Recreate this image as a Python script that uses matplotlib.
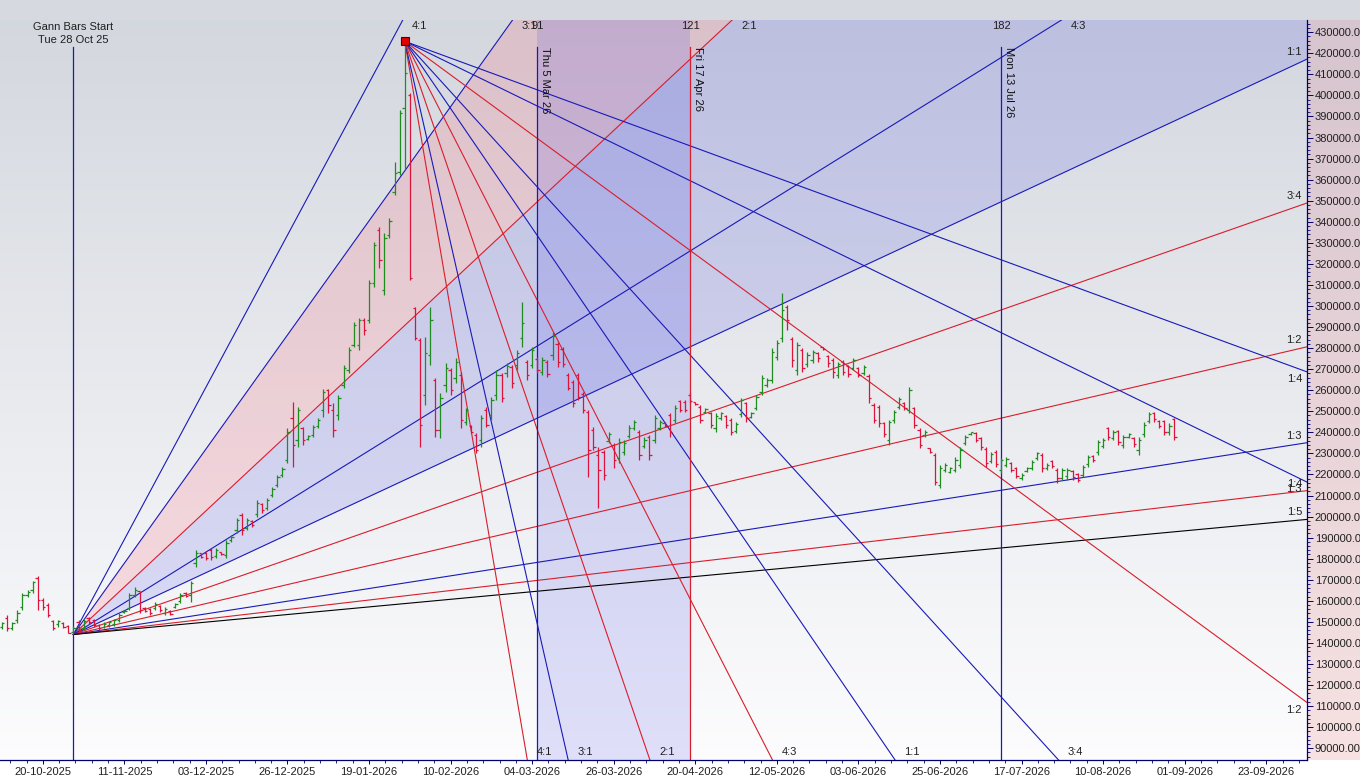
import numpy as np
import matplotlib
matplotlib.use("Agg")
import matplotlib.pyplot as plt
from matplotlib.patches import Rectangle
from matplotlib.ticker import FixedLocator, MultipleLocator, FuncFormatter

plt.rcParams["font.family"] = ["Liberation Sans", "DejaVu Sans"]

# daily OHLC in thousands, one bar per trading day, first bar is index -14
FIRST_BAR = -14
OPENS = [
    147.6, 151.9, 147.1, 150.9, 157.1, 162.8, 165.2, 170.9, 160.4, 158.0,
    150.4, 149.0, 149.5, 148.1, 145.2, 150.0, 147.1, 151.9, 150.9, 148.5,
    147.6, 148.5, 149.0, 150.9, 154.7, 156.6, 162.8, 164.7, 156.6, 156.2,
    156.6, 157.6, 154.3, 155.2, 157.1, 159.9, 163.7, 162.8, 178.0, 182.7,
    182.7, 184.2, 181.3, 183.2, 181.8, 188.9, 193.7, 200.8, 194.6, 197.9,
    201.3, 206.0, 204.1, 210.3, 215.0, 219.8, 226.9, 246.8, 236.4, 242.1,
    236.9, 238.8, 243.0, 250.6, 260.1, 250.6, 248.2, 262.5, 269.6, 281.5,
    281.5, 293.4, 293.4, 311.0, 336.1, 307.6, 333.7, 354.1, 363.6, 394.0,
    400.2, 299.1, 283.9, 257.8, 276.7, 264.9, 241.1, 262.5, 269.6, 265.8,
    267.3, 245.0, 243.0, 238.8, 236.4, 250.6, 248.2, 257.8, 267.3, 268.2,
    271.1, 272.0, 284.8, 273.4, 272.0, 274.9, 268.7, 273.4, 276.7, 282.0,
    279.6, 267.3, 264.0, 267.3, 258.2, 249.7, 241.1, 229.3, 230.7, 235.9,
    234.0, 227.9, 230.7, 238.3, 242.1, 240.2, 233.6, 237.8, 236.4, 242.1,
    244.5, 248.2, 245.9, 254.9, 254.4, 257.8, 254.4, 252.1, 249.7, 249.2,
    242.1, 246.8, 247.8, 245.9, 240.7, 248.7, 253.9, 247.3, 251.6, 259.2,
    262.5, 264.9, 275.8, 284.8, 299.5, 284.4, 269.6, 279.1, 272.5, 274.4,
    277.7, 280.5, 276.3, 274.4, 267.3, 273.4, 271.5, 270.6, 270.6, 268.2,
    266.8, 253.1, 252.1, 244.5, 236.4, 245.9, 252.1, 253.9, 250.6, 251.6,
    241.1, 238.8, 232.6, 229.3, 215.0, 222.2, 221.2, 222.2, 224.5, 235.0,
    239.2, 239.7, 237.3, 232.1, 226.4, 230.7, 222.2, 224.5, 225.5, 223.1,
    218.3, 221.7, 223.1, 227.9, 229.3, 223.1, 226.4, 222.2, 218.3, 219.3,
    221.7, 220.2, 219.8, 225.0, 228.8, 230.7, 233.6, 242.1, 237.3, 240.7,
    234.0, 237.8, 237.3, 231.6, 239.2, 245.4, 249.2, 245.4, 245.4, 240.2,
    246.4,
]
HIGHS = [
    150.1, 153.3, 150.1, 155.7, 163.6, 165.2, 169.6, 171.8, 161.4, 159.0,
    150.9, 150.9, 150.1, 148.5, 148.1, 150.9, 151.4, 152.4, 151.4, 149.0,
    150.0, 150.4, 151.4, 154.3, 155.7, 163.7, 166.6, 164.7, 157.1, 156.6,
    159.5, 158.0, 157.1, 155.7, 159.0, 163.7, 164.2, 169.4, 184.2, 182.7,
    183.2, 185.1, 185.1, 183.2, 188.9, 191.3, 199.4, 201.7, 199.4, 198.4,
    207.9, 206.5, 208.9, 214.1, 219.8, 223.6, 242.1, 254.4, 252.1, 242.6,
    238.8, 243.5, 246.8, 260.6, 260.6, 253.9, 257.8, 272.0, 280.5, 292.4,
    294.3, 294.3, 312.4, 330.4, 337.5, 334.7, 341.8, 368.4, 393.1, 425.7,
    401.2, 299.5, 284.8, 285.3, 299.5, 265.8, 258.7, 272.9, 270.6, 275.3,
    268.7, 251.6, 243.5, 239.7, 248.2, 252.1, 256.8, 269.6, 268.2, 272.9,
    272.0, 279.1, 301.9, 274.4, 280.5, 275.8, 275.8, 274.4, 287.7, 283.0,
    280.5, 268.2, 264.9, 268.2, 259.2, 250.6, 242.6, 233.1, 231.6, 240.2,
    235.0, 237.3, 236.4, 243.5, 245.9, 241.1, 237.8, 238.8, 248.2, 245.9,
    245.0, 249.2, 253.1, 255.4, 255.4, 258.7, 254.4, 253.1, 251.6, 249.7,
    249.2, 249.7, 248.2, 246.8, 245.0, 256.3, 254.4, 249.7, 257.8, 267.3,
    265.8, 280.1, 283.9, 306.2, 300.5, 285.3, 283.0, 280.1, 278.2, 279.1,
    278.2, 280.5, 276.7, 275.3, 273.4, 274.4, 272.0, 275.3, 271.1, 272.0,
    267.7, 253.9, 253.1, 245.0, 245.9, 250.6, 256.8, 254.4, 261.6, 252.1,
    242.1, 241.1, 232.6, 230.2, 224.5, 225.5, 223.6, 228.3, 233.1, 238.8,
    240.2, 240.2, 237.8, 233.1, 230.7, 231.6, 227.9, 228.3, 226.0, 223.6,
    220.7, 223.6, 226.9, 230.7, 230.2, 225.5, 226.9, 223.1, 223.1, 223.1,
    222.2, 220.7, 224.5, 229.3, 229.3, 236.4, 237.3, 242.6, 241.1, 241.1,
    238.8, 239.7, 237.8, 237.8, 245.0, 249.7, 249.7, 245.9, 245.9, 244.5,
    246.8,
]
LOWS = [
    146.5, 145.8, 146.2, 149.4, 155.7, 161.8, 163.6, 155.7, 155.7, 152.5,
    146.2, 147.7, 146.9, 144.6, 144.0, 145.2, 146.2, 149.0, 147.6, 146.2,
    147.1, 147.6, 148.1, 150.0, 154.3, 155.7, 161.8, 154.3, 154.7, 153.3,
    155.7, 154.7, 153.3, 153.3, 156.6, 159.0, 161.8, 159.5, 176.1, 180.4,
    179.4, 179.4, 180.4, 181.8, 180.4, 188.0, 192.2, 191.3, 193.7, 195.1,
    199.9, 201.7, 203.2, 209.3, 214.1, 218.8, 225.5, 223.6, 233.1, 234.0,
    236.4, 237.8, 242.1, 247.3, 249.2, 237.8, 245.9, 261.1, 268.2, 280.5,
    279.1, 286.2, 292.0, 309.0, 318.1, 305.2, 332.3, 352.7, 362.2, 364.6,
    312.4, 283.9, 233.1, 253.1, 272.0, 237.8, 237.3, 259.2, 257.8, 263.5,
    242.1, 243.5, 239.7, 230.2, 233.1, 242.6, 245.9, 255.4, 254.4, 266.3,
    261.1, 269.6, 280.5, 264.9, 270.6, 268.2, 267.3, 266.3, 274.4, 271.1,
    271.1, 260.1, 252.1, 255.4, 249.2, 218.8, 231.6, 204.1, 217.4, 235.0,
    223.1, 225.5, 229.3, 237.3, 241.1, 226.9, 232.6, 226.9, 235.0, 241.1,
    242.6, 237.8, 244.5, 249.7, 249.7, 253.9, 253.1, 244.5, 249.2, 242.1,
    240.2, 245.9, 242.1, 238.8, 239.7, 247.3, 245.0, 246.8, 250.6, 257.8,
    261.6, 263.5, 274.4, 283.0, 288.6, 271.1, 267.3, 268.7, 271.1, 272.9,
    273.4, 279.1, 271.1, 265.8, 265.8, 267.3, 266.3, 269.6, 266.3, 267.3,
    253.9, 244.5, 242.6, 237.8, 234.0, 244.5, 251.1, 250.6, 249.2, 242.1,
    232.6, 237.8, 230.2, 215.0, 213.6, 221.2, 220.7, 221.2, 223.1, 234.0,
    238.8, 235.4, 231.6, 223.6, 225.5, 223.6, 220.7, 223.6, 221.2, 218.3,
    217.4, 221.2, 222.2, 226.9, 221.2, 222.2, 223.1, 216.0, 217.4, 217.4,
    217.4, 216.5, 218.8, 223.6, 226.0, 229.3, 232.6, 236.4, 236.4, 234.0,
    232.6, 237.3, 233.1, 229.3, 237.8, 244.5, 245.0, 242.1, 238.8, 238.8,
    236.4,
]
CLOSES = [
    149.5, 147.1, 149.5, 154.3, 162.8, 164.2, 169.0, 160.4, 157.1, 153.3,
    147.1, 150.4, 147.6, 144.8, 147.1, 146.2, 150.4, 150.0, 148.5, 147.1,
    149.0, 150.0, 150.9, 153.3, 155.2, 162.8, 165.2, 155.7, 155.2, 154.3,
    158.5, 155.7, 156.2, 153.8, 158.5, 162.8, 162.3, 168.5, 182.7, 180.8,
    180.4, 180.8, 184.2, 182.2, 187.5, 190.3, 198.4, 193.7, 198.4, 196.0,
    206.5, 203.2, 207.9, 213.1, 218.8, 222.6, 240.2, 234.0, 250.6, 236.4,
    238.3, 242.6, 245.9, 259.2, 253.1, 241.1, 256.3, 270.6, 279.1, 291.0,
    293.4, 288.6, 311.0, 328.9, 321.9, 332.3, 340.4, 363.2, 391.7, 410.7,
    313.3, 284.8, 243.5, 277.7, 293.4, 241.1, 256.3, 270.6, 260.1, 273.4,
    245.9, 250.6, 240.2, 231.6, 246.8, 243.5, 255.4, 267.3, 256.3, 271.5,
    263.5, 277.7, 292.0, 267.3, 279.1, 269.6, 274.4, 267.7, 285.8, 273.4,
    272.5, 261.1, 253.9, 256.8, 250.6, 231.6, 233.1, 222.2, 219.8, 239.2,
    226.9, 235.4, 235.0, 242.1, 245.0, 229.3, 236.4, 229.3, 246.8, 245.0,
    243.0, 240.2, 251.6, 250.6, 250.6, 254.9, 253.5, 245.9, 251.1, 243.5,
    247.8, 249.2, 243.5, 240.2, 244.0, 255.4, 246.8, 249.2, 256.8, 265.8,
    264.9, 278.2, 282.4, 298.1, 293.4, 274.4, 281.5, 270.6, 276.7, 278.2,
    275.3, 279.6, 272.9, 268.7, 272.5, 268.7, 267.7, 274.4, 267.3, 271.1,
    256.3, 245.9, 244.5, 239.2, 245.0, 249.7, 255.9, 251.6, 260.1, 243.5,
    234.0, 240.2, 230.7, 216.5, 223.1, 224.5, 223.1, 226.9, 231.6, 237.8,
    240.2, 236.4, 233.1, 225.5, 229.8, 225.0, 226.9, 227.4, 222.2, 219.3,
    219.8, 223.1, 226.0, 230.2, 223.1, 224.5, 224.0, 218.3, 222.2, 222.2,
    218.8, 217.4, 223.6, 228.3, 226.9, 235.4, 236.4, 237.8, 240.2, 235.4,
    237.8, 239.2, 234.5, 236.4, 243.5, 248.7, 246.4, 243.0, 240.2, 243.0,
    237.8,
]

# date axis: a label every 16 trading bars
TICK_BARS = [-6, 10, 26, 42, 58, 74, 90, 106, 122, 138, 154, 170, 186, 202, 218, 234]
TICK_LABELS = ["20-10-2025", "11-11-2025", "03-12-2025", "26-12-2025", "19-01-2026",
               "10-02-2026", "04-03-2026", "26-03-2026", "20-04-2026", "12-05-2026",
               "03-06-2026", "25-06-2026", "17-07-2026", "10-08-2026", "01-09-2026",
               "23-09-2026"]

# gann fans
START_BAR, START_PRICE = 0, 144000      # Tue 28 Oct 25 low
PIVOT_BAR, PIVOT_PRICE = 65, 425700     # swing high
UP_UNIT = 1129                          # 1:1 price per bar, rising fan
DOWN_UNIT = 3548                        # 1:1 price per bar, falling fan
UP_NAMES = ["4:1", "3:1", "2:1", "4:3", "1:1", "3:4", "1:2", "1:3", "1:4", "1:5"]
UP_COLORS = ["b", "b", "r", "b", "b", "r", "r", "b", "r", "k"]
DOWN_NAMES = ["4:1", "3:1", "2:1", "4:3", "1:1", "3:4", "1:2", "1:3", "1:4"]
DOWN_COLORS = ["r", "b", "r", "r", "b", "b", "r", "b", "b"]

# time cycle markers
TIME_BARS = [91, 121, 182]
TIME_TEXT = ["Thu 5 Mar 26", "Fri 17 Apr 26", "Mon 13 Jul 26"]
TIME_COLORS = ["b", "r", "b"]

XMIN, XMAX = -14.4, 242.0
YMIN, YMAX = 84400, 435800

COL = {"b": "#1a1ab8", "r": "#d81e2c", "k": "#000000"}
NAVY = "#000070"
UP_BAR, DOWN_BAR = "#1e8c1e", "#dc143c"


def ratio(name):
    a, b = name.split(":")
    return int(a) / int(b)


fig = plt.figure(figsize=(13.6, 7.79), dpi=100)
fig.patch.set_facecolor((0.84, 0.85, 0.875))
fig.add_artist(Rectangle((0, 0), 1, 19 / 779, transform=fig.transFigure,
                         color="white", zorder=-2))

# pink price-scale panel
side = fig.add_axes([1307 / 1360, 19 / 779, 53 / 1360, 740 / 779])
side.set_zorder(0)
t = np.linspace(0, 1, 200)[:, None]
top_c, bot_c = np.array([0.84, 0.77, 0.81]), np.array([0.97, 0.885, 0.885])
side.imshow((top_c * (1 - t) + bot_c * t)[:, None, :].reshape(200, 1, 3),
            aspect="auto", extent=(0, 1, 0, 1))
side.axis("off")

ax = fig.add_axes([0, 19 / 779, 1307 / 1360, 740 / 779])
ax.set_zorder(1)
top_c, bot_c = np.array([0.83, 0.845, 0.872]), np.array([0.99, 0.99, 0.995])
ax.imshow((top_c * (1 - t) + bot_c * t).reshape(200, 1, 3), aspect="auto",
          extent=(XMIN, XMAX, YMIN, YMAX), zorder=0)

xs = np.array([START_BAR, XMAX])


def up_ray(r):
    return START_PRICE + r * UP_UNIT * (xs - START_BAR)


ax.fill_between(xs, up_ray(3), up_ray(2), color="#ff5064", alpha=0.17, lw=0, zorder=1)
ax.fill_between(xs, up_ray(2), up_ray(1), color="#3c3ce6", alpha=0.15, lw=0, zorder=1)
ax.axvspan(TIME_BARS[0], TIME_BARS[1], color="#3c3ce6", alpha=0.15, lw=0, zorder=1)

# rising fan from the start low
for name, c in zip(UP_NAMES, UP_COLORS):
    r = ratio(name)
    ax.plot(xs, up_ray(r), color=COL[c], lw=0.8, zorder=2)
    b_top = START_BAR + (YMAX - START_PRICE) / (r * UP_UNIT)
    if b_top < XMAX:
        ax.annotate(name, xy=(b_top, 0.992), xycoords=("data", "axes fraction"),
                    xytext=(17, 0), textcoords="offset pixels", ha="center",
                    va="center", fontsize=8, color="#202020", zorder=6)
    else:
        ax.annotate(name, xy=(XMAX, up_ray(r)[-1]), xytext=(-5, 7),
                    textcoords="offset pixels", ha="right", va="center",
                    fontsize=8, color="#202020", zorder=6)

# falling fan from the swing high
xd = np.array([PIVOT_BAR, XMAX])
for name, c in zip(DOWN_NAMES, DOWN_COLORS):
    r = ratio(name)
    yd = PIVOT_PRICE - r * DOWN_UNIT * (xd - PIVOT_BAR)
    ax.plot(xd, yd, color=COL[c], lw=0.8, zorder=2)
    b_bot = PIVOT_BAR + (PIVOT_PRICE - YMIN) / (r * DOWN_UNIT)
    if b_bot < XMAX:
        ax.annotate(name, xy=(b_bot, 0.0108), xycoords=("data", "axes fraction"),
                    xytext=(17, 0), textcoords="offset pixels", ha="center",
                    va="center", fontsize=8, color="#202020", zorder=6)
    else:
        ax.annotate(name, xy=(XMAX, yd[-1]), xytext=(-5, -7),
                    textcoords="offset pixels", ha="right", va="center",
                    fontsize=8, color="#202020", zorder=6)

# vertical markers
xt = ax.get_xaxis_transform()
ax.axvline(START_BAR, ymax=0.963, color=COL["b"], lw=0.9, zorder=2)
ax.text(START_BAR, 0.982, "Gann Bars Start\nTue 28 Oct 25", transform=xt,
        ha="center", va="center", fontsize=8, linespacing=1.3, color="#202020")
for b, txt, c in zip(TIME_BARS, TIME_TEXT, TIME_COLORS):
    ax.axvline(b, ymax=0.963, color=COL[c], lw=0.9, zorder=2)
    ax.text(b, 0.992, str(b - START_BAR), transform=xt, ha="center", va="center",
            fontsize=8, color="#202020", zorder=6)
    ax.annotate(txt, xy=(b, 0.963), xycoords=xt, xytext=(3, 0),
                textcoords="offset pixels", rotation=-90, ha="left", va="top",
                fontsize=8, color="#101010", zorder=6)

# OHLC bars
o = np.array(OPENS) * 1000
h = np.array(HIGHS) * 1000
lo = np.array(LOWS) * 1000
c = np.array(CLOSES) * 1000
x = np.arange(FIRST_BAR, FIRST_BAR + len(c))
cols = np.where(c >= o, UP_BAR, DOWN_BAR)
ax.vlines(x, lo, h, colors=cols, lw=0.9, zorder=3)
ax.hlines(o, x - 0.45, x, colors=cols, lw=0.9, zorder=3)
ax.hlines(c, x, x + 0.45, colors=cols, lw=0.9, zorder=3)

ax.plot(PIVOT_BAR, PIVOT_PRICE, "s", ms=6, mfc="#e00000", mec="#500000",
        mew=0.8, zorder=5)

# axes
ax.set_xlim(XMIN, XMAX)
ax.set_ylim(YMIN, YMAX)
for s in ("top", "left"):
    ax.spines[s].set_visible(False)
for s in ("right", "bottom"):
    ax.spines[s].set_color(NAVY)
    ax.spines[s].set_linewidth(0.9)

ax.xaxis.set_major_locator(FixedLocator(TICK_BARS))
ax.set_xticklabels(TICK_LABELS)
ax.xaxis.set_minor_locator(FixedLocator(np.arange(-22, 250, 3.2)))
ax.tick_params(axis="x", which="major", length=3, width=0.7, color=NAVY, pad=2,
               labelsize=8, labelcolor="#202020")
ax.tick_params(axis="x", which="minor", length=2, width=0.6, color=NAVY)

ax.yaxis.tick_right()
ax.yaxis.set_major_locator(MultipleLocator(10000))
ax.yaxis.set_minor_locator(MultipleLocator(2000))
ax.yaxis.set_major_formatter(FuncFormatter(lambda v, p: f"{v:.2f}"))
ax.tick_params(axis="y", which="major", length=4.3, width=0.7, color=NAVY, pad=1.4,
               labelsize=8, labelcolor="#202020")
ax.tick_params(axis="y", which="minor", length=2.2, width=0.6, color=NAVY)

fig.savefig("out.png", dpi=100, facecolor=fig.get_facecolor())
